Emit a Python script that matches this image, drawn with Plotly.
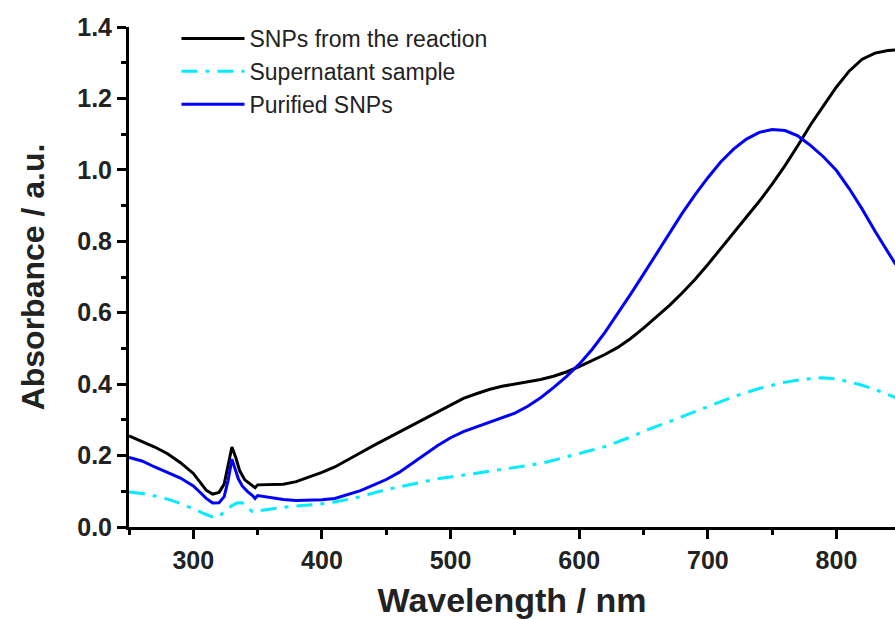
import plotly.graph_objects as go

# Wavelength (nm) and absorbance values
wl_reaction = [250, 260, 270, 280, 290, 300, 305, 310, 315, 320, 324, 327, 330, 333, 336, 340, 345, 348, 350,
               360, 370, 380, 390, 400, 410, 420, 430, 440, 450, 460, 470, 480, 490, 500, 510, 520, 530, 540,
               550, 560, 570, 580, 590, 600, 610, 620, 630, 640, 650, 660, 670, 680, 690, 700, 710, 720, 730,
               740, 750, 760, 770, 780, 790, 800, 810, 820, 830, 840, 846]
abs_reaction = [0.255, 0.24, 0.224, 0.205, 0.18, 0.15, 0.125, 0.103, 0.092, 0.097, 0.12, 0.17, 0.224, 0.195,
                0.158, 0.132, 0.117, 0.11, 0.118,
                0.118, 0.12, 0.127, 0.139, 0.153, 0.168, 0.187, 0.208, 0.228, 0.247, 0.266, 0.285, 0.304,
                0.323, 0.343, 0.36, 0.373, 0.385, 0.394,
                0.40, 0.406, 0.413, 0.422, 0.434, 0.449, 0.465, 0.483, 0.503, 0.528, 0.557, 0.588, 0.62, 0.655,
                0.693, 0.735, 0.779, 0.822, 0.866,
                0.912, 0.96, 1.012, 1.068, 1.127, 1.18, 1.232, 1.277, 1.31, 1.327, 1.334, 1.336]

wl_purified = [250, 260, 270, 280, 290, 295, 300, 305, 310, 315, 320, 324, 327, 330, 332, 335, 338, 342, 346,
               348, 350, 360, 370, 380, 390, 400, 410, 420, 430, 440, 450, 460, 470, 480, 490, 500, 510, 520,
               530, 540, 550, 560, 570, 580, 590, 600, 610, 620, 630, 640, 650, 660, 670, 680, 690, 700, 710,
               720, 730, 740, 750, 760, 770, 780, 790, 800, 810, 820, 830, 840, 846]
abs_purified = [0.195, 0.185, 0.168, 0.152, 0.137, 0.126, 0.115, 0.098, 0.08, 0.067, 0.068, 0.085, 0.13, 0.19,
                0.17, 0.135, 0.115, 0.1, 0.088,
                0.08, 0.088, 0.082, 0.077, 0.074, 0.074, 0.076, 0.08, 0.09, 0.102, 0.117, 0.133, 0.153, 0.177,
                0.203, 0.228, 0.25, 0.267, 0.28,
                0.292, 0.304, 0.319, 0.338, 0.362, 0.39, 0.421, 0.456, 0.497, 0.545, 0.597, 0.652, 0.708,
                0.765, 0.822, 0.878, 0.93, 0.978, 1.022,
                1.058, 1.086, 1.105, 1.113, 1.11, 1.095, 1.068, 1.036, 0.998, 0.947, 0.89, 0.828, 0.77, 0.735]

wl_super = [250, 260, 270, 280, 290, 295, 300, 305, 310, 315, 318, 320, 325, 330, 334, 338, 342, 346, 350,
            360, 372, 385, 398, 410, 424, 437, 450, 460, 476, 490, 500, 520, 538, 560, 575, 590, 600, 620,
            640, 655, 670, 690, 707, 720, 740, 758, 775, 789, 800, 810, 820, 830, 840, 846]
abs_super = [0.098, 0.094, 0.087, 0.078, 0.066, 0.059, 0.052, 0.043, 0.035, 0.028, 0.027, 0.03, 0.045, 0.06,
             0.067, 0.068, 0.055, 0.043, 0.045,
             0.05, 0.056, 0.06, 0.064, 0.07, 0.08, 0.092, 0.105, 0.112, 0.125, 0.135, 0.14, 0.15, 0.16,
             0.172, 0.182, 0.196, 0.205, 0.225,
             0.252, 0.275, 0.295, 0.323, 0.348, 0.365, 0.388, 0.404, 0.414, 0.418, 0.415, 0.407, 0.397,
             0.385, 0.37, 0.362]

series_names = ["SNPs from the reaction", "Supernatant sample", "Purified SNPs"]

FONT = "Arial, Liberation Sans, sans-serif"

fig = go.Figure()
fig.add_trace(go.Scatter(x=wl_reaction, y=abs_reaction, mode="lines", name=series_names[0],
                         line=dict(color="#000000", width=3)))
fig.add_trace(go.Scatter(x=wl_super, y=abs_super, mode="lines", name=series_names[1],
                         line=dict(color="#00ECFF", width=3, dash="16px,8px,4px,8px")))
fig.add_trace(go.Scatter(x=wl_purified, y=abs_purified, mode="lines", name=series_names[2],
                         line=dict(color="#0000FF", width=3)))

axis_common = dict(
    showline=True, linecolor="black", linewidth=3, mirror=False,
    ticks="outside", ticklen=9, tickwidth=3, tickcolor="black",
    showgrid=False, zeroline=False,
    tickfont=dict(family=FONT, size=25, color="#222222", weight="bold"),
)

fig.update_layout(
    width=895, height=619,
    margin=dict(l=129, r=0, t=27, b=92),
    paper_bgcolor="white", plot_bgcolor="white",
    showlegend=True,
    legend=dict(x=0.062, y=1.02, xanchor="left", yanchor="top",
                font=dict(family=FONT, size=23, color="#222222"),
                bgcolor="rgba(0,0,0,0)", itemwidth=63, tracegroupgap=0),
    xaxis=dict(
        range=[250, 845.5], tickmode="array", tickvals=[300, 400, 500, 600, 700, 800],
        ticktext=["300", "400", "500", "600", "700", "800"],
        minor=dict(tickvals=[250, 350, 450, 550, 650, 750, 850], ticks="outside", ticklen=5,
                   tickwidth=3, tickcolor="black"),
        title=dict(text="Wavelength / nm", standoff=16,
                   font=dict(family=FONT, size=34, color="#222222", weight="bold")),
        **axis_common,
    ),
    yaxis=dict(
        range=[0, 1.4], tickmode="array", tickvals=[0, 0.2, 0.4, 0.6, 0.8, 1.0, 1.2, 1.4],
        ticktext=["0.0", "0.2", "0.4", "0.6", "0.8", "1.0", "1.2", "1.4"],
        minor=dict(tickvals=[0.1, 0.3, 0.5, 0.7, 0.9, 1.1, 1.3], ticks="outside", ticklen=5,
                   tickwidth=3, tickcolor="black"),
        title=dict(text="Absorbance / a.u.", standoff=24,
                   font=dict(family=FONT, size=32, color="#222222", weight="bold")),
        **axis_common,
    ),
)

fig.write_html("out.html")
